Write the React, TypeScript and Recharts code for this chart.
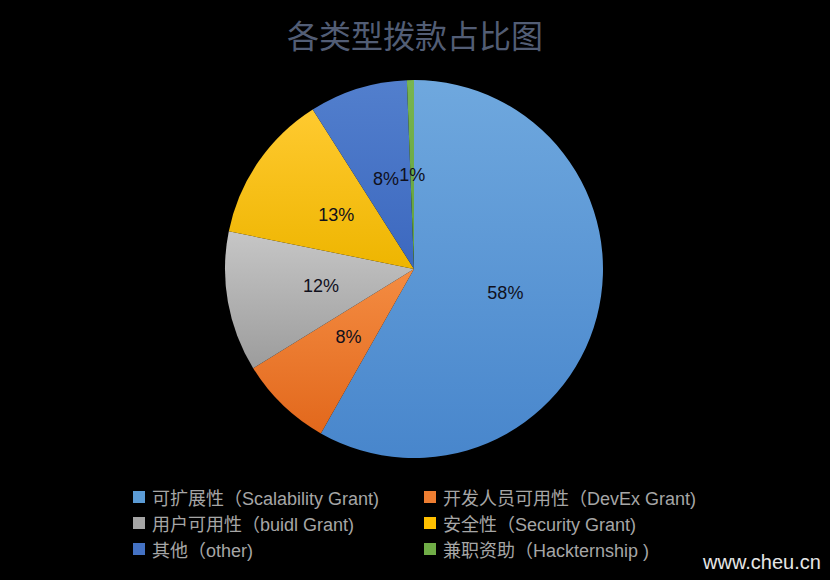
import { PieChart, Pie, Cell, Legend } from "recharts";

const CATEGORIES = [
    "可扩展性（Scalability Grant)",
    "开发人员可用性（DevEx Grant)",
    "用户可用性（buidl Grant)",
    "安全性（Security Grant)",
    "其他（other)",
    "兼职资助（Hackternship )",
];
const SHARES = [58.2, 8.0, 12.0, 12.8, 8.4, 0.6];

// top / bottom shade of each slice (vertical gradient)
const COLORS = [
    ["#6fa8de", "#4886cc"],
    ["#f48c42", "#e2681c"],
    ["#c6c6c6", "#9c9c9c"],
    ["#ffca30", "#eeb500"],
    ["#527fcd", "#3c68bf"],
    ["#78b550", "#62a03c"],
];
const LEGEND_COLORS = ["#5b9bd5", "#ed7d31", "#a5a5a5", "#ffc000", "#4472c4", "#70ad47"];

const data = CATEGORIES.map((name, i) => ({ name, value: SHARES[i] }));

const RADIAN = Math.PI / 180;

const renderLabel = ({ cx, cy, midAngle, outerRadius, percent }: any) => {
    const r = outerRadius * 0.5;
    const x = cx + r * Math.cos(-midAngle * RADIAN);
    const y = cy + r * Math.sin(-midAngle * RADIAN);
    return (
        <text x={x} y={y} textAnchor="middle" dominantBaseline="central"
            fill="#10101c" fontSize={18} fontFamily="'Liberation Sans', Arial, sans-serif">
            {`${Math.round(percent * 100)}%`}
        </text>
    );
};

export default function App() {
    return (
        <div style={{ position: "fixed", left: 0, top: 0, width: 830, height: 580, background: "#000", overflow: "hidden" }}>
            <div style={{
                position: "absolute", left: 0, top: 12, width: 830, textAlign: "center",
                fontSize: 32, color: "#525d75", fontFamily: "'Noto Sans CJK SC', sans-serif", lineHeight: "44px",
            }}>各类型拨款占比图</div>
            <PieChart width={830} height={580} margin={{ top: 0, right: 0, bottom: 0, left: 0 }}>
                <defs>
                    {COLORS.map(([a, b], i) => (
                        <linearGradient key={i} id={`g${i}`} x1="0" y1="0" x2="0" y2="1">
                            <stop offset="0%" stopColor={a} />
                            <stop offset="100%" stopColor={b} />
                        </linearGradient>
                    ))}
                </defs>
                <Pie data={data} dataKey="value" nameKey="name" cx={414} cy={269} outerRadius={189}
                    startAngle={90} endAngle={-270} stroke="none" labelLine={false} label={renderLabel}
                    isAnimationActive={false}>
                    {data.map((_d, i) => <Cell key={i} fill={`url(#g${i})`} />)}
                </Pie>
                <Legend verticalAlign="bottom"
                    wrapperStyle={{ left: 0, top: 487, width: 830 }}
                    content={() => (
                        <div style={{ display: "grid", gridTemplateColumns: "291px 320px", paddingLeft: 133, rowGap: 6 }}>
                            {CATEGORIES.map((c, i) => (
                                <div key={c} style={{ display: "flex", alignItems: "center", height: 20, color: "#a6a6a6", fontSize: 18, fontFamily: "'Liberation Sans', 'Noto Sans CJK SC', sans-serif", whiteSpace: "nowrap" }}>
                                    <span style={{ width: 12, height: 12, background: LEGEND_COLORS[i], marginRight: 7, display: "inline-block", flexShrink: 0 }}></span>
                                    <span>{c}</span>
                                </div>
                            ))}
                        </div>
                    )} />
            </PieChart>
            <div style={{ position: "absolute", left: 703, top: 551, fontSize: 20, color: "#e6e6e6", fontFamily: "'Liberation Sans', Arial, sans-serif" }}>www.cheu.cn</div>
        </div>
    );
}
